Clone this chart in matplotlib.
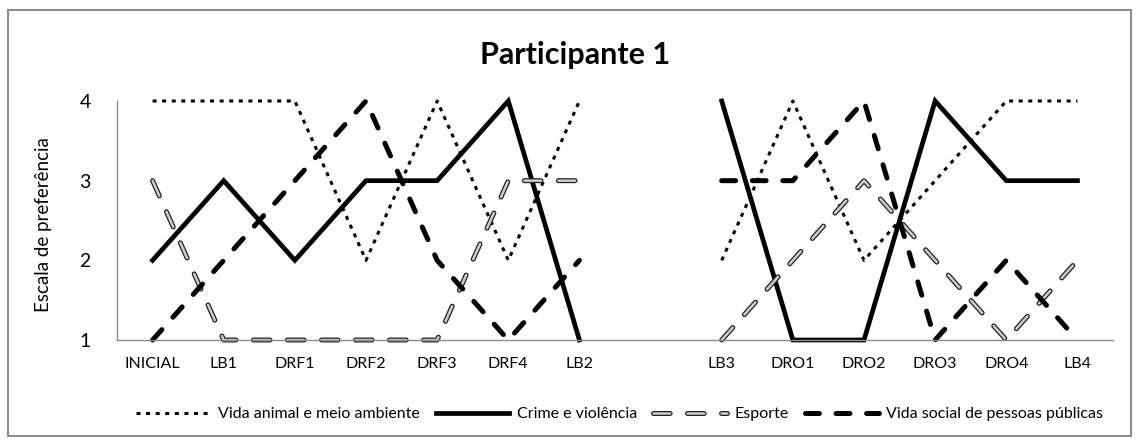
#!/usr/bin/env python3

from matplotlib import pyplot as plt
from matplotlib.patches import Rectangle
import matplotlib.patheffects as pe
import numpy as np

W, H, DPI = 1139, 446, 100

categories = ["INICIAL", "LB1", "DRF1", "DRF2", "DRF3", "DRF4", "LB2", "",
              "LB3", "DRO1", "DRO2", "DRO3", "DRO4", "LB4"]

# None = gap between the two phases
vida_animal = [4, 4, 4, 2, 4, 2, 4, None, 2, 4, 2, 3, 4, 4]
crime = [2, 3, 2, 3, 3, 4, 1, None, 4, 1, 1, 4, 3, 3]
esporte = [3, 1, 1, 1, 1, 3, 3, None, 1, 2, 3, 2, 1, 2]
vida_social = [1, 2, 3, 4, 2, 1, 2, None, 3, 3, 4, 1, 2, 1]

labels = ["Vida animal e meio ambiente", "Crime e violência", "Esporte",
          "Vida social de pessoas públicas"]


def px(x0, y0, x1, y1):
    # pixel box (top-left origin) -> figure fraction rect
    return [x0 / W, 1 - y1 / H, (x1 - x0) / W, (y1 - y0) / H]


def to_arr(vals):
    return np.array([np.nan if v is None else v for v in vals], dtype=float)


def main():
    plt.rcParams["font.family"] = ["Lato", "DejaVu Sans"]
    plt.rcParams["lines.scale_dashes"] = False

    fig = plt.figure(figsize=(W / DPI, H / DPI), dpi=DPI)
    fig.patches.append(Rectangle((8 / W, 1 - 436 / H), 1123 / W, 426 / H,
                                 transform=fig.transFigure, fill=False,
                                 edgecolor="#8c8c8c", linewidth=1.5))

    ax = fig.add_axes(px(117, 101, 1113, 340))
    x = np.arange(len(categories))

    l1, = ax.plot(x, to_arr(vida_animal), color="black", linewidth=2.2,
                  dashes=(2.9, 4.0), dash_capstyle="butt", clip_on=False)
    l2, = ax.plot(x, to_arr(crime), color="black", linewidth=3.4,
                  solid_joinstyle="miter", clip_on=False)
    l3, = ax.plot(x, to_arr(esporte), color="#cccccc", linewidth=1.8,
                  dashes=(12, 12.5), dash_capstyle="round", clip_on=False,
                  path_effects=[pe.Stroke(linewidth=3.6, foreground="#222222"),
                                pe.Normal()])
    l4, = ax.plot(x, to_arr(vida_social), color="black", linewidth=3.6,
                  dashes=(10, 12), dash_capstyle="round", clip_on=False)

    ax.set_xlim(-0.5, len(categories) - 0.5)
    ax.set_ylim(1, 4)
    ax.set_yticks([1, 2, 3, 4])
    ax.set_xticks(x)
    ax.set_xticklabels(categories)
    ax.tick_params(axis="both", length=0, colors="black")
    ax.tick_params(axis="y", pad=19, labelsize=14)
    ax.tick_params(axis="x", pad=12, labelsize=11.5)
    for s in ["top", "right"]:
        ax.spines[s].set_visible(False)
    for s in ["left", "bottom"]:
        ax.spines[s].set_color("#8c8c8c")
        ax.spines[s].set_linewidth(1.0)

    fig.text(44 / W, 1 - 225 / H, "Escala de preferência", rotation=90,
             ha="center", va="center", fontsize=13.5)
    fig.text(575 / W, 1 - 55 / H, "Participante 1", ha="center",
             va="center", fontsize=22, fontweight="bold")

    fig.legend([l1, l2, l3, l4], labels, loc="center",
               bbox_to_anchor=(620 / W, 1 - 414 / H), ncol=4, frameon=False,
               fontsize=11.5, handlelength=4.6, columnspacing=1.0,
               handletextpad=0.5)

    fig.savefig("out.png", dpi=DPI)


if __name__ == "__main__":
    main()
